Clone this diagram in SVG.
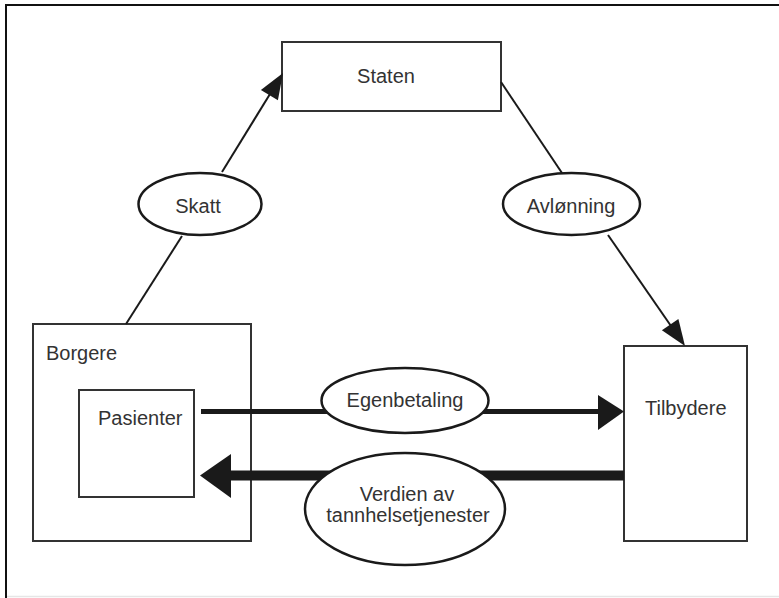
<svg xmlns="http://www.w3.org/2000/svg" width="779" height="598" viewBox="0 0 779 598">
<style>
  .box { fill: #ffffff; stroke: #333333; stroke-width: 2; }
  .ell { fill: #ffffff; stroke: #1a1a1a; stroke-width: 2.5; }
  .lbl { font-family: "Liberation Sans", Arial, sans-serif; font-size: 20px; fill: #333333; }
  .mid { text-anchor: middle; }
  .thin { stroke: #1a1a1a; stroke-width: 2; fill: none; }
  .med { stroke: #1a1a1a; stroke-width: 5; fill: none; }
  .thick { stroke: #1a1a1a; stroke-width: 10; fill: none; }
  .head { fill: #1a1a1a; }
</style>
<rect x="0" y="0" width="779" height="598" fill="#ffffff"/>
<g id="frame">
  <line x1="6" y1="5" x2="779" y2="5" stroke="#111111" stroke-width="2"/>
  <line x1="6" y1="4" x2="6" y2="598" stroke="#111111" stroke-width="2"/>
  <line x1="7" y1="596.5" x2="779" y2="596.5" stroke="#e6e6e6" stroke-width="1.5"/>
</g>
<g id="staten">
  <rect class="box" x="282" y="42" width="219" height="69"/>
  <text class="lbl mid" x="386" y="83">Staten</text>
</g>
<g id="borgere">
  <rect class="box" x="33" y="324" width="218" height="217"/>
  <text class="lbl" x="46" y="360">Borgere</text>
</g>
<g id="pasienter">
  <rect class="box" x="79" y="390" width="115" height="107"/>
  <text class="lbl" x="98" y="425">Pasienter</text>
</g>
<g id="tilbydere">
  <rect class="box" x="624" y="346" width="123" height="195"/>
  <text class="lbl" x="645" y="415">Tilbydere</text>
</g>
<g id="connectors">
  <!-- Borgere -> Skatt -> Staten -->
  <line class="thin" x1="126" y1="324" x2="182" y2="236"/>
  <line class="thin" x1="222" y1="172" x2="270" y2="94"/>
  <polygon class="head" points="283,73 277.9,100.3 260.9,89.9"/>
  <!-- Staten -> Avlønning -> Tilbydere -->
  <line class="thin" x1="501" y1="82" x2="562" y2="173"/>
  <line class="thin" x1="608" y1="235" x2="671" y2="326"/>
  <polygon class="head" points="685,346 661.9,330.3 678.4,318.9"/>
  <!-- Egenbetaling -->
  <line class="med" x1="201" y1="411.5" x2="600" y2="411.5"/>
  <polygon class="head" points="624,411.5 598,395 598,430"/>
  <!-- Verdien av tannhelsetjenester -->
  <line class="thick" x1="624" y1="475.5" x2="228" y2="475.5"/>
  <polygon class="head" points="200,475.5 231,454 231,498"/>
</g>
<g id="skatt">
  <ellipse class="ell" cx="200" cy="204" rx="61.5" ry="31"/>
  <text class="lbl mid" x="198" y="213">Skatt</text>
</g>
<g id="avlonning">
  <ellipse class="ell" cx="571.5" cy="204" rx="68.5" ry="31"/>
  <text class="lbl mid" x="571" y="213">Avlønning</text>
</g>
<g id="egenbetaling">
  <ellipse class="ell" cx="405" cy="400.5" rx="83.5" ry="32.5"/>
  <text class="lbl mid" x="405" y="407">Egenbetaling</text>
</g>
<g id="verdien">
  <ellipse class="ell" cx="405" cy="509" rx="100" ry="56"/>
  <text class="lbl mid" x="407" y="501">Verdien av</text>
  <text class="lbl mid" x="408" y="522">tannhelsetjenester</text>
</g>
</svg>
